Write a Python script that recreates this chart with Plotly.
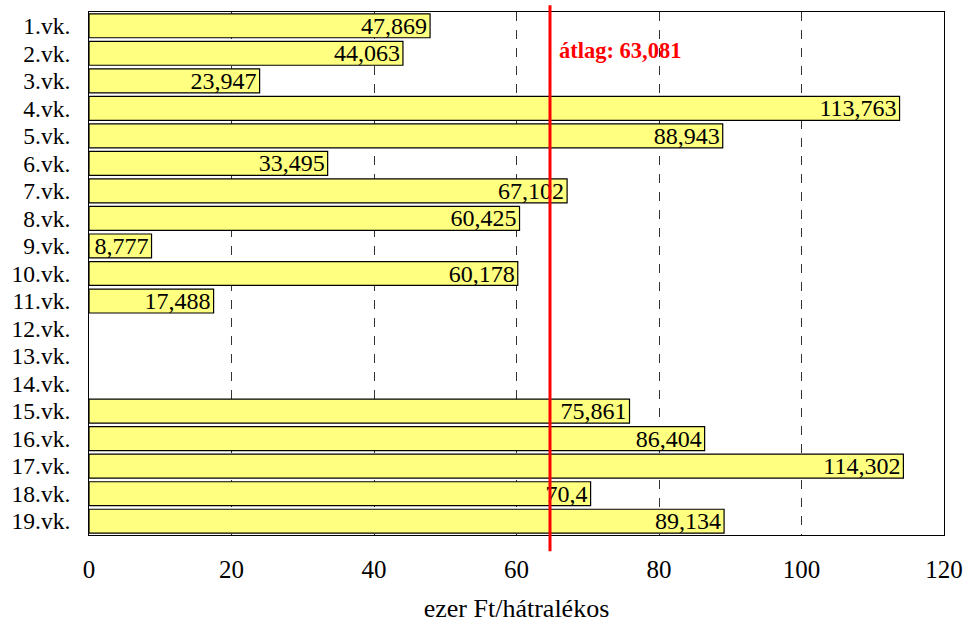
import plotly.graph_objects as go

categories = [f"{i}.vk." for i in range(1, 20)]
values = [47.869, 44.063, 23.947, 113.763, 88.943, 33.495, 67.102, 60.425, 8.777, 60.178,
          17.488, None, None, None, 75.861, 86.404, 114.302, 70.4, 89.134]
labels = ["47,869", "44,063", "23,947", "113,763", "88,943", "33,495", "67,102", "60,425", "8,777",
          "60,178", "17,488", "", "", "", "75,861", "86,404", "114,302", "70,4", "89,134"]
avg_line_x = 64.7
avg_text = "átlag: 63,081"
x_ticks = [0, 20, 40, 60, 80, 100, 120]

FONT = "Times New Roman, Liberation Serif, DejaVu Serif, serif"

fig = go.Figure()
fig.add_trace(go.Bar(
    y=categories, x=values, orientation="h",
    marker=dict(color="#FFFF80", line=dict(color="black", width=1.2)),
    text=labels, textposition="inside", insidetextanchor="end",
    constraintext="none", cliponaxis=True,
    textfont=dict(family=FONT, size=24, color="black"),
    hoverinfo="skip",
))

fig.add_shape(type="line", xref="x", yref="paper", x0=avg_line_x, x1=avg_line_x,
              y0=-0.031, y1=1.013, line=dict(color="#FF0000", width=3), layer="above")
fig.add_annotation(x=avg_line_x, xref="x", y=categories[1], yref="y", text=f"<b>{avg_text}</b>",
                   showarrow=False, xanchor="left", xshift=7, yshift=3,
                   font=dict(family=FONT, size=22.5, color="#FF0000"))

fig.update_layout(
    width=967, height=624,
    margin=dict(l=89, r=23, t=12, b=89, autoexpand=False),
    paper_bgcolor="white", plot_bgcolor="white",
    bargap=0.13, showlegend=False,
    font=dict(family=FONT, size=23, color="black"),
)
fig.update_xaxes(range=[0, 120], tickmode="array", tickvals=x_ticks, ticktext=[str(t) for t in x_ticks],
                 showgrid=True, gridcolor="#333333", griddash="dash", gridwidth=1,
                 showline=True, linecolor="black", linewidth=1, mirror=True,
                 zeroline=False, ticks="", ticklabelstandoff=12, automargin=False,
                 tickfont=dict(family=FONT, size=25),
                 title=dict(text="ezer Ft/hátralékos", font=dict(family=FONT, size=26), standoff=16))
fig.update_yaxes(autorange="reversed", categoryorder="array", categoryarray=categories,
                 tickmode="array", tickvals=categories, ticktext=categories,
                 showgrid=False, showline=True, linecolor="black", linewidth=1, mirror=True,
                 ticks="", ticklabelstandoff=13, automargin=False, tickfont=dict(family=FONT, size=23.5))

fig.write_html("out.html", config={"displayModeBar": False},
               post_script="document.body.style.margin='0';document.body.style.padding='0';")
